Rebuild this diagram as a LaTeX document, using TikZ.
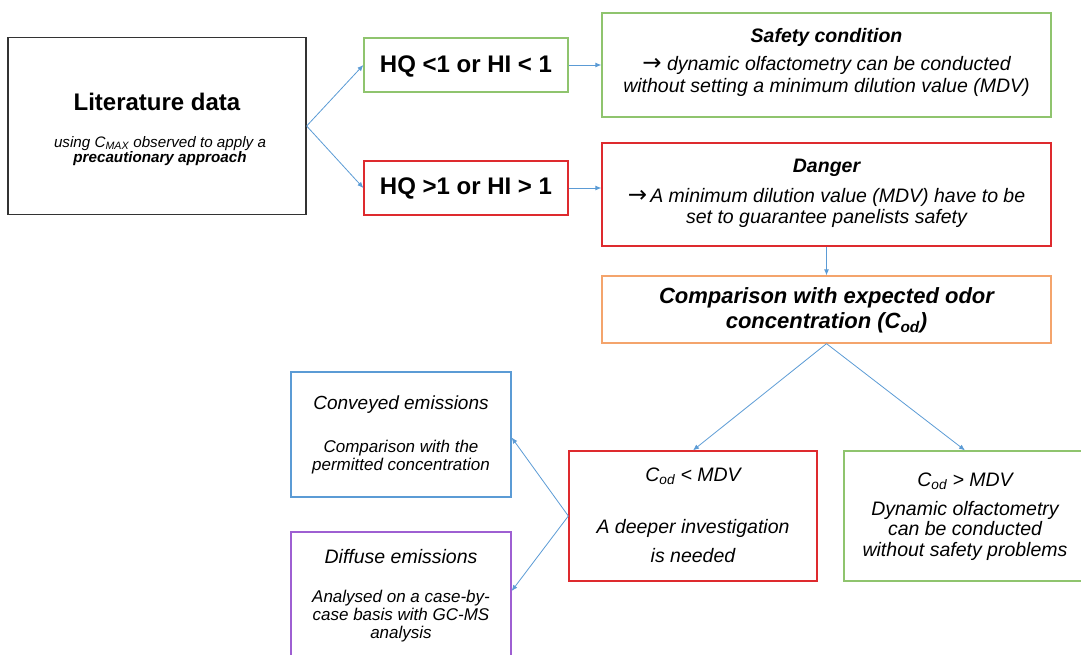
\documentclass[tikz,border=0pt]{standalone}
\usepackage{fontspec}
\setmainfont{Liberation Sans}
\newfontfamily\arrowfont{DejaVu Sans}
\usetikzlibrary{arrows.meta}
\definecolor{bgreen}{HTML}{8FC46E}
\definecolor{bred}{HTML}{DE2A2E}
\definecolor{borange}{HTML}{F4A46C}
\definecolor{bblue}{HTML}{5B9BD5}
\definecolor{bpurple}{HTML}{9E5FD2}
\definecolor{bblack}{HTML}{333333}
\newcommand{\bigarrow}{{\arrowfont\upshape\fontsize{23}{22}\selectfont →}}
\begin{document}
\begin{tikzpicture}[x=1pt,y=-1pt,
  boxstyle/.style={draw, line width=1.3pt, rectangle, inner sep=0pt, fill=white},
  arr/.style={draw=bblue, line width=0.8pt, -{Latex[length=6pt,width=5pt]}},
  txt/.style={inner sep=0pt, align=center, text=black}]
\useasboundingbox (0,0) rectangle (1081,654);
% boxes
\node[boxstyle, draw=bblack, minimum width=298pt, minimum height=177pt] (lit) at (157,126) {};
\node[boxstyle, draw=bgreen, minimum width=204pt, minimum height=54pt] (hq1) at (466,65) {};
\node[boxstyle, draw=bred, minimum width=204pt, minimum height=54pt] (hq2) at (466,188) {};
\node[boxstyle, draw=bgreen, minimum width=449pt, minimum height=104pt] (safe) at (826.5,65) {};
\node[boxstyle, draw=bred, minimum width=449pt, minimum height=103pt] (danger) at (826.5,194.5) {};
\node[boxstyle, draw=borange, minimum width=449pt, minimum height=67pt] (comp) at (826.5,309.5) {};
\node[boxstyle, draw=bblue, minimum width=220pt, minimum height=125pt] (conv) at (401,434.5) {};
\node[boxstyle, draw=bpurple, minimum width=220pt, minimum height=126pt] (diff) at (401,595) {};
\node[boxstyle, draw=bred, minimum width=248pt, minimum height=130pt] (cless) at (693,516) {};
\node[boxstyle, draw=bgreen, minimum width=242pt, minimum height=130pt] (cmore) at (965,516) {};
% texts
\node[txt, font=\fontsize{24}{28}\selectfont\bfseries] (littitle) at (157,102) {Literature data};
\node[txt, font=\fontsize{15.2}{15.5}\selectfont\itshape] (litsub) at (160,151) {using C\textsubscript{MAX} observed to apply a\\\textbf{precautionary approach}};
\node[txt, font=\fontsize{24}{28}\selectfont\bfseries] (hq1t) at (466,66) {HQ <1 or HI < 1};
\node[txt, font=\fontsize{24}{28}\selectfont\bfseries] (hq2t) at (466,188) {HQ >1 or HI > 1};
\node[txt, font=\fontsize{19.5}{22}\selectfont\bfseries\itshape] (safet) at (826.5,37) {Safety condition};
\node[txt, font=\fontsize{19.5}{21.5}\selectfont\itshape] (safeb) at (826.5,76.5) {\bigarrow{} dynamic olfactometry can be conducted\\without setting a minimum dilution value (MDV)};
\node[txt, font=\fontsize{19.5}{22}\selectfont\bfseries\itshape] (dangert) at (826.5,168) {Danger};
\node[txt, font=\fontsize{19.5}{20.5}\selectfont\itshape] (dangerb) at (826.5,208) {\bigarrow\,A minimum dilution value (MDV) have to be\\set to guarantee panelists safety};
\node[txt, font=\fontsize{22}{25}\selectfont\bfseries\itshape] (compt) at (826.5,310.5) {Comparison with expected odor\\concentration (C\textsubscript{od})};
\node[txt, font=\fontsize{19}{22}\selectfont\itshape] (convt) at (401,405) {Conveyed emissions};
\node[txt, font=\fontsize{17}{18.5}\selectfont\itshape] (convb) at (401,457) {Comparison with the\\permitted concentration};
\node[txt, font=\fontsize{19.5}{22}\selectfont\itshape] (difft) at (401,557) {Diffuse emissions};
\node[txt, font=\fontsize{17}{18}\selectfont\itshape] (diffb) at (401,616) {Analysed on a case-by-\\case basis with GC-MS\\analysis};
\node[txt, font=\fontsize{19.5}{22}\selectfont\itshape] (clesst) at (693,476) {C\textsubscript{od} < MDV};
\node[txt, font=\fontsize{19.5}{29.5}\selectfont\itshape] (clessb) at (693,541) {A deeper investigation\\is needed};
\node[txt, font=\fontsize{19.5}{22}\selectfont\itshape] (cmoret) at (965,481) {C\textsubscript{od} > MDV};
\node[txt, font=\fontsize{19.5}{20.5}\selectfont\itshape] (cmoreb) at (965,530.5) {Dynamic olfactometry\\can be conducted\\without safety problems};
% connectors
\draw[arr] (lit.east) -- (hq1.west);
\draw[arr] (lit.east) -- (hq2.west);
\draw[arr] (hq1.east) -- (hq1.east -| safe.west);
\draw[arr] (hq2.east) -- (hq2.east -| danger.west);
\draw[arr] (danger.south) -- (comp.north);
\draw[arr] (comp.south) -- (cless.north);
\draw[arr] (comp.south) -- (cmore.north);
\draw[arr] (cless.west) -- ([yshift=-3pt]conv.east);
\draw[arr] (cless.west) -- ([yshift=4pt]diff.east);
\end{tikzpicture}
\end{document}
